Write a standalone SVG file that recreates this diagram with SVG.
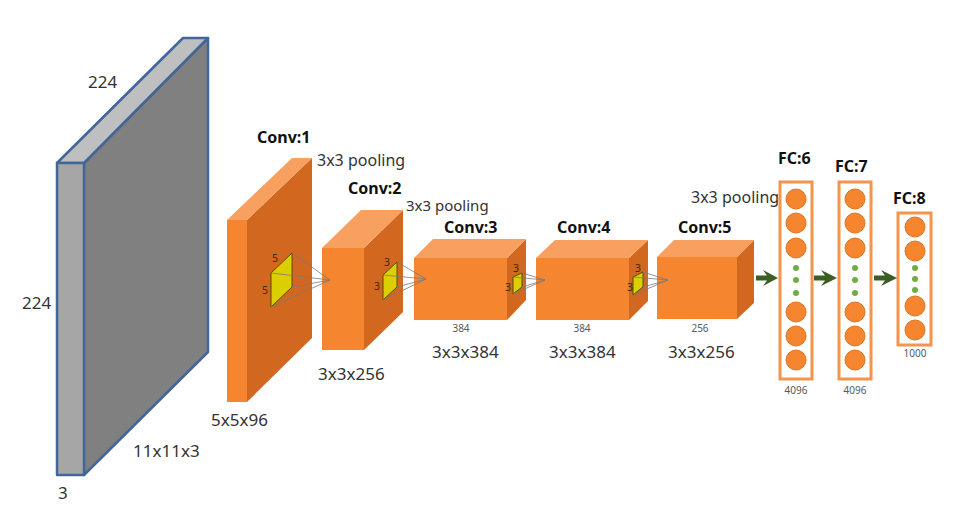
<svg xmlns="http://www.w3.org/2000/svg" width="955" height="512" viewBox="0 0 955 512">
<style>
text{font-family:"Noto Sans","Open Sans","Liberation Sans",sans-serif;}
.lbl{font-size:16px;fill:#333333;}
.dim{font-size:17px;fill:#333333;}
.ttl{font-size:16px;font-weight:bold;fill:#111111;}
.sm{font-size:10px;fill:#595959;text-anchor:middle;}
.k{font-size:10.5px;fill:#3a2a00;}
.gfront{fill:#a6a6a6;stroke:#41679a;stroke-width:2.5;stroke-linejoin:round;}
.gtop{fill:#bfbfbf;stroke:#41679a;stroke-width:2.5;stroke-linejoin:round;}
.gside{fill:#808080;stroke:#41679a;stroke-width:2.5;stroke-linejoin:round;}
.of{fill:#f5852f;}
.ot{fill:#f8a05f;}
.os{fill:#d2671f;}
.yk{fill:#dccf00;stroke:#5b4a00;stroke-width:1;stroke-linejoin:round;}
.pl{stroke:#7a7a7a;stroke-width:0.8;fill:none;}
.fcbox{fill:#ffffff;stroke:#f4944d;stroke-width:3;}
.neu{fill:#f5852f;stroke:#e2741f;stroke-width:1;}
.dot{fill:#70ad47;}
.arr{fill:#3b5e22;}
</style>

<g id="input">
  <polygon class="gside" points="84,163 208,38 208,352 84,475"/>
  <polygon class="gtop" points="57,163 84,163 208,38 183,38"/>
  <rect class="gfront" x="57" y="163" width="27" height="312"/>
  <text class="dim" x="88" y="88">224</text>
  <text class="dim" x="22" y="309">224</text>
  <text class="dim" x="133" y="457">11x11x3</text>
  <text class="dim" x="58" y="499">3</text>
</g>

<g id="conv1">
  <polygon class="os" points="247,220 312,158 312,338 247,402"/>
  <polygon class="ot" points="227,220 247,220 312,158 292,158"/>
  <rect class="of" x="227" y="220" width="20" height="182"/>
  <polygon class="yk" points="271,273 292,253 292,287 271,307"/>
  <text class="k" x="272" y="262">5</text>
  <text class="k" x="262" y="294">5</text>
  <text class="ttl" x="257" y="143">Conv:1</text>
  <text class="lbl" x="317" y="166">3x3 pooling</text>
  <text class="dim" x="211" y="426">5x5x96</text>
</g>

<g id="conv2">
  <polygon class="os" points="364,248 403,210 403,312 364,350"/>
  <polygon class="ot" points="322,248 364,248 403,210 361,210"/>
  <rect class="of" x="322" y="248" width="42" height="102"/>
  <polygon class="yk" points="383,275 397,262 397,287 383,300"/>
  <text class="k" x="384" y="266">3</text>
  <text class="k" x="374" y="290">3</text>
  <text class="ttl" x="348" y="194">Conv:2</text>
  <text class="lbl" x="406" y="211" style="font-size:15px">3x3 pooling</text>
  <text class="dim" x="318" y="380">3x3x256</text>
</g>

<g id="conv3">
  <polygon class="os" points="507,258 526,239 526,300 507,320"/>
  <polygon class="ot" points="414,258 507,258 526,239 433,239"/>
  <rect class="of" x="414" y="258" width="93" height="62"/>
  <polygon class="yk" points="513,277 522,273 522,287 513,294"/>
  <text class="k" x="513" y="272">3</text>
  <text class="k" x="505" y="291">3</text>
  <text class="ttl" x="444" y="233">Conv:3</text>
  <text class="sm" x="461" y="332">384</text>
  <text class="dim" x="432" y="358">3x3x384</text>
</g>

<g id="conv4">
  <polygon class="os" points="629,258 648,240 648,301 629,320"/>
  <polygon class="ot" points="536,258 629,258 648,240 555,240"/>
  <rect class="of" x="536" y="258" width="93" height="62"/>
  <polygon class="yk" points="633,277 643,272 643,287 633,295"/>
  <text class="k" x="635" y="272">3</text>
  <text class="k" x="627" y="291">3</text>
  <text class="ttl" x="557" y="233">Conv:4</text>
  <text class="sm" x="582" y="332">384</text>
  <text class="dim" x="549" y="358">3x3x384</text>
</g>

<g id="conv5">
  <polygon class="os" points="737,257 754,240 754,303 737,319"/>
  <polygon class="ot" points="657,257 737,257 754,240 674,240"/>
  <rect class="of" x="657" y="257" width="80" height="62"/>
  <text class="ttl" x="678" y="233">Conv:5</text>
  <text class="lbl" x="691" y="203">3x3 pooling</text>
  <text class="sm" x="700" y="332">256</text>
  <text class="dim" x="668" y="358">3x3x256</text>
</g>

<g id="fc6">
  <rect class="fcbox" x="780" y="182" width="32" height="197"/>
  <circle class="neu" cx="796" cy="199" r="10"/>
  <circle class="neu" cx="796" cy="223" r="10"/>
  <circle class="neu" cx="796" cy="248" r="10"/>
  <circle class="dot" cx="796" cy="268" r="3"/>
  <circle class="dot" cx="796" cy="280" r="3"/>
  <circle class="dot" cx="796" cy="293" r="3"/>
  <circle class="neu" cx="796" cy="312" r="10"/>
  <circle class="neu" cx="796" cy="336" r="10"/>
  <circle class="neu" cx="796" cy="360" r="10"/>
  <text class="ttl" x="778" y="164">FC:6</text>
  <text class="sm" x="796" y="394">4096</text>
</g>

<g id="fc7">
  <rect class="fcbox" x="839" y="182" width="32" height="197"/>
  <circle class="neu" cx="855" cy="199" r="10"/>
  <circle class="neu" cx="855" cy="223" r="10"/>
  <circle class="neu" cx="855" cy="248" r="10"/>
  <circle class="dot" cx="855" cy="268" r="3"/>
  <circle class="dot" cx="855" cy="280" r="3"/>
  <circle class="dot" cx="855" cy="293" r="3"/>
  <circle class="neu" cx="855" cy="312" r="10"/>
  <circle class="neu" cx="855" cy="336" r="10"/>
  <circle class="neu" cx="855" cy="360" r="10"/>
  <text class="ttl" x="835" y="172">FC:7</text>
  <text class="sm" x="855" y="394">4096</text>
</g>

<g id="fc8">
  <rect class="fcbox" x="898" y="213" width="33" height="132"/>
  <circle class="neu" cx="915" cy="227" r="10"/>
  <circle class="neu" cx="915" cy="251" r="10"/>
  <circle class="dot" cx="915" cy="268" r="3"/>
  <circle class="dot" cx="915" cy="279" r="3"/>
  <circle class="dot" cx="915" cy="290" r="3"/>
  <circle class="neu" cx="915" cy="306" r="10"/>
  <circle class="neu" cx="915" cy="330" r="10"/>
  <text class="ttl" x="893" y="204">FC:8</text>
  <text class="sm" x="915" y="357">1000</text>
</g>

<g id="connectors">
  <path class="pl" d="M292,253 L330,280 M271,273 L330,280 M292,287 L330,280 M271,307 L330,280"/>
  <path class="pl" d="M397,262 L426,279 M383,275 L426,279 M397,287 L426,279 M383,300 L426,279"/>
  <path class="pl" d="M522,273 L545,280 M513,277 L545,280 M522,287 L545,280 M513,294 L545,280"/>
  <path class="pl" d="M643,272 L668,280 M633,277 L668,280 M643,287 L668,280 M633,295 L668,280"/>
  <polygon class="arr" points="756,275.5 767,275.5 763,270 778,278 763,286 767,280.5 756,280.5"/>
  <polygon class="arr" points="814,275.5 825,275.5 821,270 837,278 821,286 825,280.5 814,280.5"/>
  <polygon class="arr" points="874,275.5 885,275.5 881,270 897,278 881,286 885,280.5 874,280.5"/>
</g>
</svg>
